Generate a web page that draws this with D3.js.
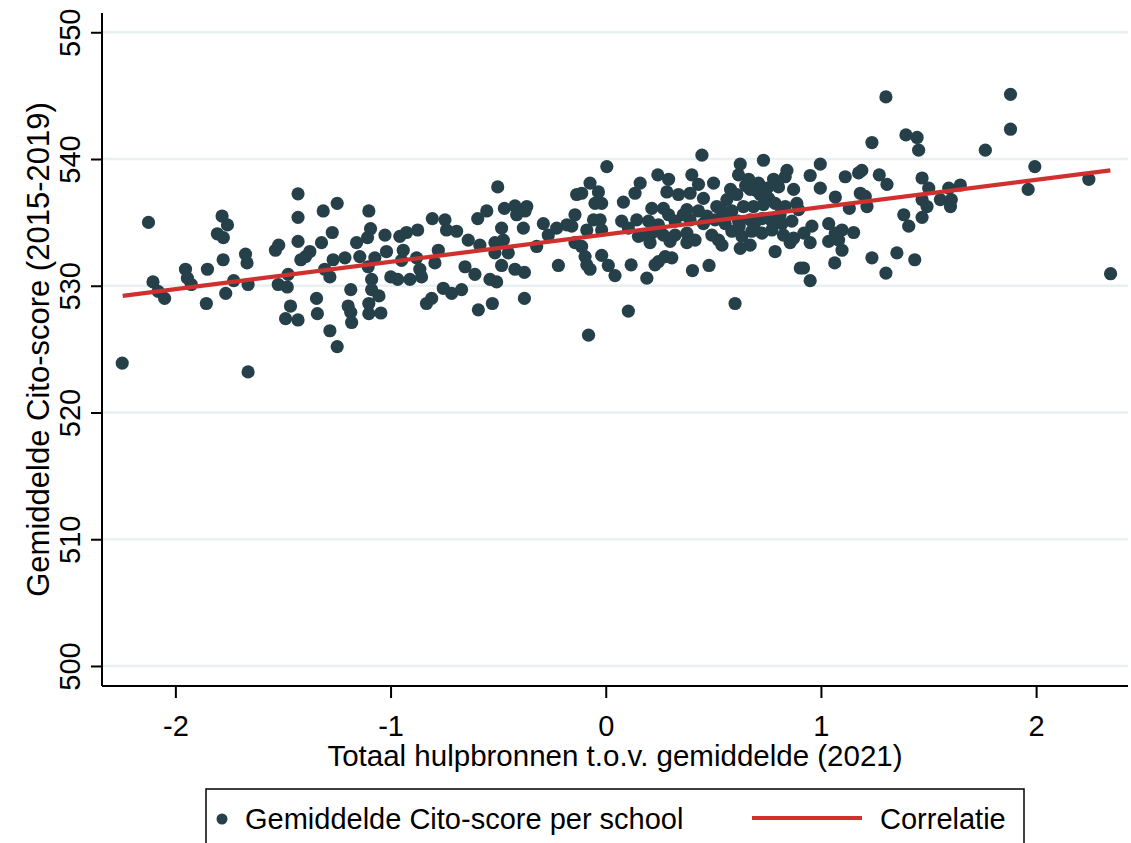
<!DOCTYPE html>
<html>
<head>
<meta charset="utf-8">
<script src="https://cdn.jsdelivr.net/npm/d3@7.9.0/dist/d3.min.js"></script>
<style>
  body { margin: 0; background: #fff; }
  svg { display: block; font-family: "Liberation Sans", Arial, sans-serif; }
</style>
</head>
<body>
<svg id="chart" width="1131" height="843"></svg>
<script>
// Totaal hulpbronnen t.o.v. gemiddelde (2021), one value per school
const hulpbronnen = [
  -2.125, -2.104, -2.08, -2.05, -2.247, -1.953, -1.944, -1.926, -1.856, -1.851,
  -1.783, -1.758, -1.805, -1.777, -1.778, -1.766, -1.729, -1.674, -1.667, -1.662,
  -1.662, -1.535, -1.52, -1.522, -1.48, -1.476, -1.465, -1.488, -1.43, -1.43,
  -1.43, -1.43, -1.417,
  -1.395, -1.375, -1.313, -1.248, -1.271, -1.321, -1.306, -1.282, -1.267, -1.212,
  -1.344, -1.34, -1.282, -1.248, -1.185, -1.197, -1.185, -1.181, -1.158, -1.143,
  -1.101, -1.093, -1.107, -1.104, -1.088, -1.088, -1.054, -1.101, -1.101, -1.045,
  -1.073, -1.026, -1.019, -0.999, -0.967, -0.957, -0.926, -0.874, -0.941, -0.949,
  -0.91, -0.879, -0.864, -0.856, -0.833, -0.809, -0.806, -0.747, -0.74, -0.693,
  -0.778, -0.794, -0.755, -0.716, -0.67, -0.654, -0.639, -0.608, -0.595, -0.592,
  -0.585,
  -0.502, -0.553, -0.538, -0.507, -0.527, -0.471, -0.422, -0.414, -0.367, -0.375,
  -0.484, -0.476, -0.515, -0.515, -0.453, -0.484, -0.422, -0.378, -0.383, -0.378,
  -0.321, -0.29, -0.267, -0.228, -0.22, -0.181, -0.143, -0.135, -0.112, -0.073,
  -0.034, -0.05, -0.019, 0.005, -0.158, -0.143, -0.112, -0.096, -0.088, -0.057,
  -0.026, -0.019, -0.088, -0.073, -0.019, 0.012, 0.043, -0.08, 0.082, 0.136,
  0.16, 0.074, 0.105, 0.144, 0.152, 0.118, 0.105,
  0.447, 0.625, 0.733, 0.842, 0.834, 0.242, 0.292, 0.284, 0.4, 0.431,
  0.501, 0.617, 0.664, 0.71, 0.78, 0.803, 0.873, 0.338, 0.392, 0.454,
  0.563, 0.609, 0.671, 0.718, 0.757, 0.214, 0.268, 0.292, 0.377, 0.431,
  0.516, 0.54, 0.586, 0.64, 0.687, 0.733, 0.787, 0.834, 0.888, 0.199,
  0.245, 0.322, 0.392, 0.454, 0.508, 0.555, 0.617, 0.671, 0.726, 0.772,
  0.819, 0.865, 0.167, 0.214, 0.268, 0.322, 0.377, 0.415, 0.493, 0.524,
  0.586, 0.633, 0.679, 0.726, 0.772, 0.826, 0.873, 0.206, 0.299, 0.377,
  0.54, 0.625, 0.671, 0.787, 0.857, 0.245, 0.276, 0.307, 0.229, 0.191,
  0.403, 0.48, 0.601, 0.904,
  0.58, 0.65, 0.7, 0.75, 0.36, 0.47, 0.56, 0.62, 0.69, 0.81,
  1.237, 1.395, 1.447, 1.454, 0.997, 0.95, 0.997, 0.896, 1.113, 1.175,
  1.19, 1.271, 1.307, 1.067, 1.132, 1.183, 1.206, 1.214, 1.47, 1.501,
  1.47, 1.493, 1.555, 1.594, 1.606, 1.602, 1.648, 1.385, 1.408, 1.47,
  0.958, 0.921, 0.95, 1.036, 1.067, 1.098, 1.152, 1.036, 1.082, 1.098,
  1.064, 0.919, 0.95, 1.237, 1.353, 1.302, 1.436,
  1.881, 1.881, 1.764, 1.994, 1.963, 2.245, 2.346, 1.302
];

// Gemiddelde Cito-score (2015-2019), same order as above
const citoScore = [
  535.0, 530.3, 529.55, 529.0, 523.9, 531.3, 530.6, 530.1, 528.6, 531.3,
  535.5, 534.8, 534.1, 533.8, 532.05, 529.4, 530.4, 532.5, 531.8, 530.1,
  523.2, 532.8, 533.2, 530.1, 529.9, 530.9, 528.4, 527.4, 527.3, 537.25,
  535.4, 533.5, 532.05,
  532.3, 532.7, 535.9, 536.5, 534.2, 533.4, 531.3, 530.7, 532.05, 532.2,
  529.0, 527.8, 526.45, 525.2, 529.7, 528.4, 527.9, 527.1, 533.4, 532.3,
  535.9, 534.5, 533.8, 531.5, 530.5, 529.7, 529.2, 528.6, 527.8, 527.85,
  532.2, 534.0, 532.7, 530.7, 530.5, 533.9, 534.2, 534.4, 532.8, 532.0,
  530.5, 532.2, 531.3, 530.7, 528.6, 529.0, 535.3, 535.2, 534.4, 534.3,
  532.8, 531.8, 529.8, 529.4, 529.7, 531.5, 533.6, 530.9, 535.3, 528.1,
  533.2,
  537.8, 535.9, 530.5, 530.3, 528.6, 536.1, 536.3, 535.6, 536.25, 535.9,
  534.55, 533.6, 533.4, 532.6, 532.6, 531.6, 531.3, 531.05, 534.55, 529.0,
  533.1, 534.9, 534.0, 534.55, 531.6, 534.8, 535.6, 537.2, 537.3, 538.1,
  537.4, 536.5, 536.5, 539.4, 534.7, 533.4, 533.1, 532.3, 534.4, 535.2,
  535.2, 534.4, 531.65, 531.3, 532.4, 531.6, 530.8, 526.1, 536.6, 537.3,
  538.1, 535.1, 534.55, 535.2, 533.9, 531.65, 528.0,
  540.3, 539.6, 539.9, 539.1, 538.6, 538.75, 538.4, 537.4, 538.75, 538.0,
  538.1, 538.75, 538.4, 538.1, 538.4, 537.8, 537.6, 537.2, 537.3, 536.9,
  536.8, 537.2, 537.6, 537.2, 536.9, 536.1, 536.1, 535.6, 536.0, 535.9,
  536.25, 535.9, 535.9, 536.25, 536.25, 536.4, 536.5, 536.25, 536.5, 535.1,
  534.8, 535.1, 535.2, 534.9, 535.2, 534.9, 535.1, 535.2, 535.3, 535.1,
  534.9, 535.1, 534.0, 534.15, 534.0, 534.0, 534.15, 533.6, 534.0, 533.6,
  534.3, 533.9, 534.3, 534.15, 534.4, 534.0, 533.75, 533.4, 533.5, 533.4,
  533.2, 532.95, 533.2, 532.7, 533.4, 531.9, 532.3, 532.2, 531.65, 530.6,
  531.2, 531.6, 528.6, 531.4,
  537.6, 537.9, 537.5, 537.7, 535.6, 535.5, 535.5, 534.7, 534.8, 535.6,
  541.3, 541.9, 541.7, 540.7, 539.6, 538.7, 537.7, 536.0, 538.6, 538.9,
  539.1, 538.75, 538.0, 537.0, 536.1, 537.3, 537.05, 536.25, 538.5, 537.7,
  536.8, 536.25, 536.8, 537.7, 536.8, 536.25, 537.95, 535.6, 534.7, 535.4,
  534.7, 534.15, 533.4, 534.9, 534.15, 534.4, 534.2, 533.5, 533.6, 532.8,
  531.8, 531.4, 530.4, 532.2, 532.6, 531.0, 532.05,
  545.1, 542.35, 540.7, 539.4, 537.6, 538.4, 530.95, 544.9
];

// fitted line end points
const fitX = [-2.245, 2.345];
const fitY = [529.2, 539.1];

const xTicks = [-2, -1, 0, 1, 2];
const yTicks = [500, 510, 520, 530, 540, 550];

const legendLabels = ['Gemiddelde Cito-score per school', 'Correlatie'];

const dotColor = '#26404a';
const lineColor = '#d0312f';
const gridColor = '#e9f0f2';

const svg = d3.select('#chart');

const plotLeft = 102, plotRight = 1128, plotTop = 13, plotBottom = 686;

let x = d3.scaleLinear().domain([-2.341, 2.427]).range([plotLeft, plotRight]);
let y = d3.scaleLinear().domain([498.42, 551.52]).range([plotBottom, plotTop]);

// gridlines
svg.append('g')
  .selectAll('line')
  .data(yTicks)
  .join('line')
  .attr('x1', plotLeft)
  .attr('x2', plotRight)
  .attr('y1', (d) => y(d))
  .attr('y2', (d) => y(d))
  .attr('stroke', gridColor)
  .attr('stroke-width', 2.5);

// points
let schools = hulpbronnen.map((v, i) => ({ x: v, y: citoScore[i] }));
svg.append('g')
  .selectAll('circle')
  .data(schools)
  .join('circle')
  .attr('cx', (d) => x(d.x))
  .attr('cy', (d) => y(d.y))
  .attr('r', 6.6)
  .attr('fill', dotColor);

// correlation line
let fit = fitX.map((v, i) => [v, fitY[i]]);
svg.append('path')
  .datum(fit)
  .attr('d', d3.line().x((d) => x(d[0])).y((d) => y(d[1])))
  .attr('stroke', lineColor)
  .attr('stroke-width', 4.2)
  .attr('fill', 'none');

// axes (plain hyphen for negatives, like the original)
let tickText = (d) => String(d);

let xAxis = svg.append('g')
  .attr('transform', `translate(0,${plotBottom})`)
  .call(d3.axisBottom(x).tickValues(xTicks).tickSize(12).tickFormat(tickText));
xAxis.select('.domain').attr('d', `M${plotLeft},0H${plotRight}`);

let yAxis = svg.append('g')
  .attr('transform', `translate(${plotLeft},0)`)
  .call(d3.axisLeft(y).tickValues(yTicks).tickSize(11).tickFormat(tickText));
yAxis.select('.domain').attr('d', `M0,${plotTop}V${plotBottom}`);

svg.selectAll('.domain').attr('stroke', '#000').attr('stroke-width', 2);
svg.selectAll('.tick line').attr('stroke', '#000').attr('stroke-width', 2);
xAxis.selectAll('.tick text')
  .attr('font-size', 29)
  .attr('fill', '#000')
  .attr('dy', null)
  .attr('y', 50);
yAxis.selectAll('.tick text')
  .attr('font-size', 29)
  .attr('fill', '#000')
  .attr('x', null)
  .attr('dy', null)
  .attr('text-anchor', 'middle')
  .attr('transform', 'translate(-22,0) rotate(-90)');

// axis titles
svg.append('text')
  .attr('x', (plotLeft + plotRight) / 2)
  .attr('y', 766)
  .attr('text-anchor', 'middle')
  .attr('font-size', 29.5)
  .text('Totaal hulpbronnen t.o.v. gemiddelde (2021)');

svg.append('text')
  .attr('transform', `translate(49,${(plotTop + plotBottom) / 2}) rotate(-90)`)
  .attr('text-anchor', 'middle')
  .attr('font-size', 31)
  .text('Gemiddelde Cito-score (2015-2019)');

// legend
let legend = svg.append('g');
legend.append('rect')
  .attr('x', 206)
  .attr('y', 789)
  .attr('width', 818)
  .attr('height', 80)
  .attr('fill', '#fff')
  .attr('stroke', '#000')
  .attr('stroke-width', 1.5);
legend.append('circle')
  .attr('cx', 222)
  .attr('cy', 819)
  .attr('r', 5.5)
  .attr('fill', dotColor);
legend.append('text')
  .attr('x', 245)
  .attr('y', 829)
  .attr('font-size', 29)
  .text(legendLabels[0]);
legend.append('line')
  .attr('x1', 752)
  .attr('x2', 862)
  .attr('y1', 818)
  .attr('y2', 818)
  .attr('stroke', lineColor)
  .attr('stroke-width', 4);
legend.append('text')
  .attr('x', 880)
  .attr('y', 829)
  .attr('font-size', 29)
  .text(legendLabels[1]);
</script>
</body>
</html>
